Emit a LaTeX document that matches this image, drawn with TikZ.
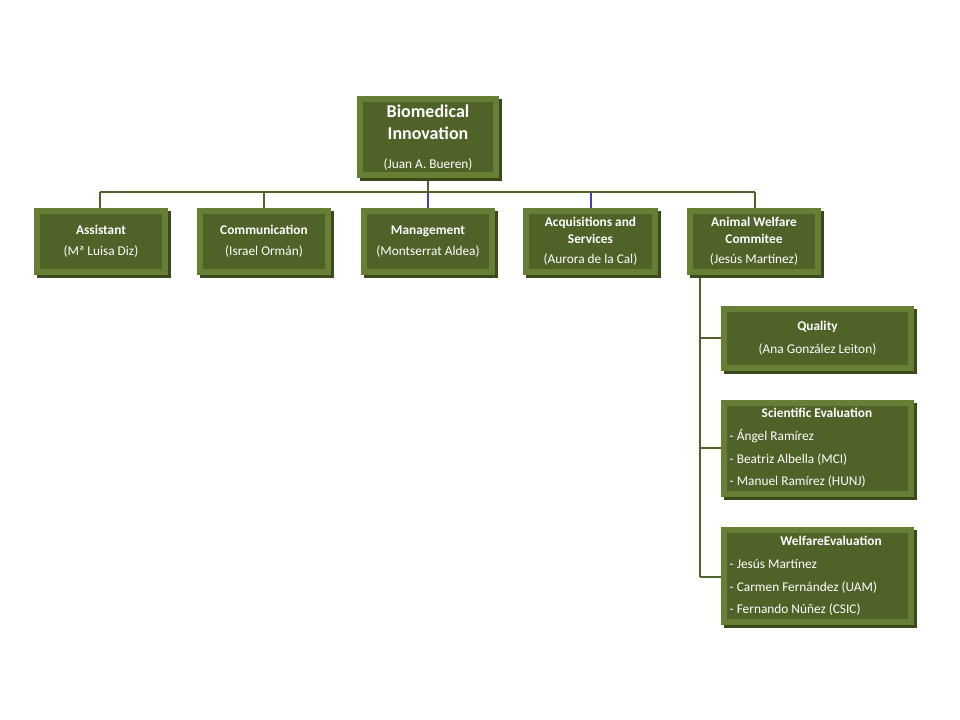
\documentclass[tikz,border=0pt]{standalone}
\usepackage{fontspec}
\setmainfont{Carlito}
\definecolor{olive}{HTML}{4F6228}
\definecolor{bevel}{HTML}{677E35}
\definecolor{edge}{HTML}{3A4A1C}
\begin{document}
\begin{tikzpicture}[x=0.75pt,y=-0.75pt,
  conn/.style={draw=olive,line width=2.2pt},
  lbl/.style={text=white,font=\fontsize{10}{13}\selectfont,align=center}]
\useasboundingbox (0,0) rectangle (960,720);
\newcommand{\bbox}[5]{%
  \fill[edge] (#1+3,#2+3) rectangle (#3+3,#4+3);
  \fill[bevel] (#1,#2) rectangle (#3,#4);
  \fill[olive] (#1+6,#2+6) rectangle (#3-6,#4-6);
  \coordinate (#5) at ({(#1+#3)/2},{(#2+#4)/2});}
% connectors
\coordinate (busl) at (100,192);
\coordinate (busr) at (755,192);
\draw[conn] (busl) -- (busr);
\draw[conn] (428,178) -- (428,192);
\foreach \x in {100,264,755} \draw[conn] (\x,192) -- (\x,208);
\foreach \x in {428,591} \draw[draw=blue!50!gray,line width=1.4pt] (\x,193) -- (\x,208);
\draw[conn] (700,275) -- (700,577);
\foreach \y in {338,448,577} \draw[conn] (700,\y) -- (721,\y);
% boxes
\bbox{357}{96}{499}{178}{btop}
\bbox{34}{208}{168}{275}{ba}
\bbox{197}{208}{331}{275}{bc}
\bbox{361}{208}{495}{275}{bm}
\bbox{523}{208}{658}{275}{bq}
\bbox{687}{208}{821}{275}{bw}
\bbox{721}{306}{914}{371}{bql}
\bbox{721}{400}{914}{497}{bse}
\bbox{721}{527}{914}{625}{bwe}
\node[lbl,font=\fontsize{13.5}{17}\selectfont\bfseries] (ntop) at ([yshift=11pt]btop) {Biomedical\\Innovation};
\node[lbl] (ntop2) at ([yshift=-21pt]btop) {(Juan A. Bueren)};
\node[lbl] (na) at (ba) {\textbf{Assistant}\\[3pt](Mª Luisa Diz)};
\node[lbl] (nc) at (bc) {\textbf{Communication}\\[3pt](Israel Ormán)};
\node[lbl] (nm) at (bm) {\textbf{Management}\\[3pt](Montserrat Aldea)};
\node[lbl] (nq) at (bq) {\textbf{Acquisitions and}\\\textbf{Services}\\[2pt](Aurora de la Cal)};
\node[lbl] (nw) at (bw) {\textbf{Animal Welfare}\\\textbf{Commitee}\\[2pt](Jesús Martínez)};
\node[lbl] (nql) at (bql) {\textbf{Quality}\\[4pt](Ana González Leiton)};
\node[lbl,align=left,anchor=west,font=\fontsize{10}{17}\selectfont] (nse) at (725,448) {\hspace*{24pt}\textbf{Scientific Evaluation}\\- Ángel Ramírez\\- Beatriz Albella (MCI)\\- Manuel Ramírez (HUNJ)};
\node[lbl,align=left,anchor=west,font=\fontsize{10}{17}\selectfont] (nwe) at (725,576) {\hspace*{38pt}\textbf{WelfareEvaluation}\\- Jesús Martínez\\- Carmen Fernández (UAM)\\- Fernando Núñez (CSIC)};
\end{tikzpicture}
\end{document}
